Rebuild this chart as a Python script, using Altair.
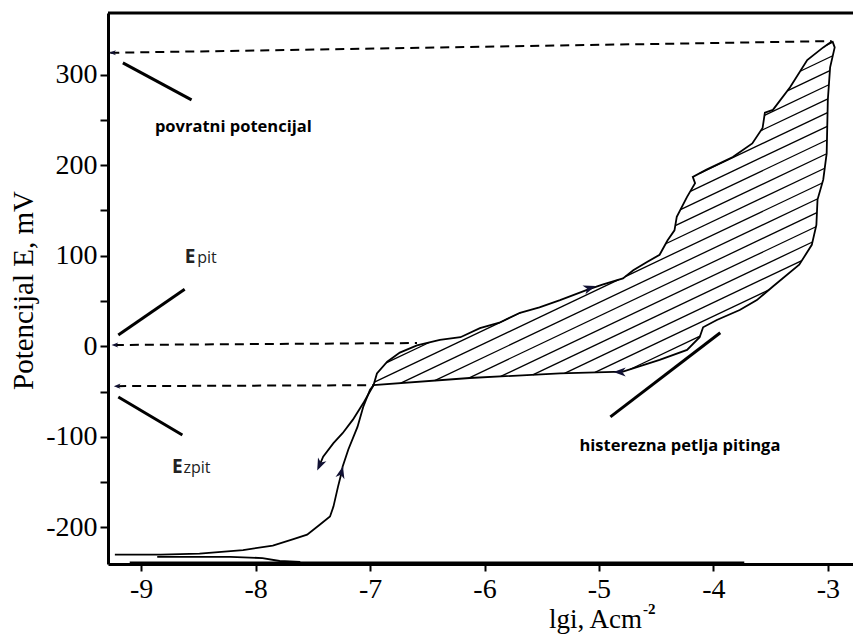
import altair as alt
import pandas as pd
import numpy as np

# ---------------- data ----------------
# forward (anodic) scan
fwd_lgi = [-9.23, -8.83, -8.49, -8.11, -7.85, -7.67, -7.55, -7.44, -7.35, -7.32, -7.28, -7.25, -7.24,
           -7.19, -7.11, -7.06, -7.00, -6.97, -6.94, -6.85, -6.74, -6.59, -6.39, -6.21, -6.04, -5.87,
           -5.69, -5.52, -5.34, -5.11, -4.97, -4.79, -4.70, -4.58, -4.47, -4.40, -4.34, -4.32, -4.23,
           -4.16, -4.18, -4.06, -3.83, -3.66, -3.57, -3.55, -3.48, -3.33, -3.18, -3.04, -2.96]
fwd_E = [-230, -230, -229, -225, -220, -213, -208, -197, -188, -177, -155, -140, -133,
         -114, -89, -67, -48, -43, -30, -17, -7, 1, 7, 10, 20, 26,
         37, 43, 51, 62, 68, 75, 84, 93, 101, 117, 128, 143, 165,
         180, 187, 195, 209, 224, 241, 258, 261, 286, 316, 330, 337]
# reverse scan
rev_lgi = [-2.96, -2.94, -2.98, -3.00, -3.01, -3.04, -3.09, -3.10, -3.14, -3.25, -3.48, -3.62, -3.77,
           -3.97, -4.09, -4.12, -4.23, -4.47, -4.62, -4.79, -5.34, -6.13, -6.97, -7.06, -7.15, -7.24,
           -7.32, -7.41, -7.45]
rev_E = [337, 330, 308, 272, 213, 184, 162, 134, 112, 90, 66, 51, 40,
         29, 21, 10, -4, -15, -21, -28, -30, -35, -43, -63, -81, -96,
         -107, -122, -134]
# traces along the bottom
low1_lgi = [-8.86, -8.22, -7.94, -7.79, -7.61]
low1_E = [-232.6, -232.6, -233.8, -237.1, -238.2]
low2_lgi = [-9.10, -3.73]
low2_E = [-238.6, -238.6]

# dashed guide lines (povratni potencijal, Epit, Ezpit)
guide_lgi0 = [-9.27, -9.23, -9.21]
guide_E0 = [324, 1.4, -44]
guide_lgi1 = [-2.97, -6.59, -6.97]
guide_E1 = [337, 3.6, -43]

# leader lines of the labels
lead_lgi0 = [-9.16, -9.20, -9.20, -4.90]
lead_E0 = [313, 12.5, -56, -78]
lead_lgi1 = [-8.56, -8.62, -8.64, -3.94]
lead_E1 = [272, 63, -98, 15]

# arrow heads
arr_lgi = [-7.25, -5.08, -4.82, -7.44, -9.25, -9.23, -9.21]
arr_E = [-139, 64.4, -28.4, -131, 324, 1.4, -44]
arr_angle = [14, 71, 270, 204, 270, 270, 270]
arr_size = [150, 150, 150, 150, 45, 45, 45]

# hatch of the hysteresis loop (slope in mV/decade, spacing in mV)
hatch_slope = 60.0
hatch_step = 15.0
hatch_ref = 363.2

E_ticks = [-200, -150, -100, -50, 0, 50, 100, 150, 200, 250, 300]
lgi_ticks = [-9, -8, -7, -6, -5, -4, -3]

# ---------------- build tables ----------------
rows = []
def add(seg, us, vs):
    for i, (u, v) in enumerate(zip(us, vs)):
        rows.append({"lgi": u, "E": v, "seg": seg, "ord": i})

add("fwd", fwd_lgi, fwd_E)
add("rev", rev_lgi, rev_E)
add("low1", low1_lgi, low1_E)
add("low2", low2_lgi, low2_E)
curves = pd.DataFrame(rows)

# hatch lines clipped to the loop
i0 = fwd_lgi.index(-6.97)
pu = np.array(fwd_lgi[i0:] + rev_lgi[1:22])
pv = np.array(fwd_E[i0:] + rev_E[1:22])
n = len(pu)
hrows = []
for j in range(-12, 16):
    c = hatch_ref + hatch_step * j
    g = pv - hatch_slope * pu - c
    xs_ = []
    for a in range(n):
        b = (a + 1) % n
        if g[a] * g[b] < 0:
            t = g[a] / (g[a] - g[b])
            xs_.append(pu[a] + t * (pu[b] - pu[a]))
    xs_.sort()
    for p in range(0, len(xs_) - 1, 2):
        for q, u in enumerate((xs_[p], xs_[p + 1])):
            hrows.append({"lgi": u, "E": c + hatch_slope * u, "seg": f"h{j}_{p}", "ord": q})
hatch = pd.DataFrame(hrows)

grows = []
for i in range(3):
    grows.append({"lgi": guide_lgi0[i], "E": guide_E0[i], "seg": i, "ord": 0})
    grows.append({"lgi": guide_lgi1[i], "E": guide_E1[i], "seg": i, "ord": 1})
guides = pd.DataFrame(grows)

lrows = []
for i in range(4):
    lrows.append({"lgi": lead_lgi0[i], "E": lead_E0[i], "seg": i, "ord": 0})
    lrows.append({"lgi": lead_lgi1[i], "E": lead_E1[i], "seg": i, "ord": 1})
leads = pd.DataFrame(lrows)

arrows = pd.DataFrame({"lgi": arr_lgi, "E": arr_E, "angle": arr_angle, "size": arr_size})

bold_txt = pd.DataFrame({"lgi": [-8.88, -5.17], "E": [236.6, -116],
                         "t": ["povratni potencijal", "histerezna petlja pitinga"]})
e_txt = pd.DataFrame({"lgi": [-8.62, -8.73], "E": [92, -140], "t": ["E", "E"]})
sub_txt = pd.DataFrame({"lgi": [-8.51, -8.63], "E": [92, -140], "t": ["pit", "zpit"]})

# ---------------- chart ----------------
W, H = 745, 551
SERIF = "Liberation Serif"
xs = alt.Scale(domain=[-9.29, -2.78], nice=False, zero=False)
ys = alt.Scale(domain=[-240.4, 368], nice=False, zero=False)
xaxis = alt.Axis(values=lgi_ticks, labelExpr="'' + datum.value", title=None, grid=False,
                 tickSize=7, tickWidth=2, domainWidth=3, labelPadding=4,
                 labelFont=SERIF, labelFontSize=28, labelColor="black",
                 domainColor="black", tickColor="black")
yaxis = alt.Axis(values=E_ticks, labelExpr="datum.value % 100 == 0 ? '' + datum.value : ''",
                 grid=False, tickSize=8, tickWidth=2, domainWidth=3, labelPadding=3,
                 labelFont=SERIF, labelFontSize=28, labelColor="black",
                 domainColor="black", tickColor="black",
                 title="Potencijal E, mV", titleFont=SERIF, titleFontSize=29,
                 titleFontWeight="normal", titleColor="black", titleX=-85, titleY=277,
                 titleAngle=270, titleAlign="center", titleBaseline="middle")
X = alt.X("lgi:Q", scale=xs, axis=xaxis)
Y = alt.Y("E:Q", scale=ys, axis=yaxis)

frame_top = alt.Chart(pd.DataFrame({"a": [0]})).mark_rule(color="black", strokeWidth=3).encode(
    x=alt.value(0), x2=alt.value(W), y=alt.value(0))

hatch_layer = alt.Chart(hatch).mark_line(color="black", strokeWidth=1.3).encode(
    x=X, y=Y, detail="seg:N", order="ord:Q")
curve_layer = alt.Chart(curves).mark_line(color="black", strokeWidth=1.8).encode(
    x=X, y=Y, detail="seg:N", order="ord:Q")
guide_layer = alt.Chart(guides).mark_line(color="black", strokeWidth=2, strokeDash=[9, 6]).encode(
    x=X, y=Y, detail="seg:N", order="ord:Q")
lead_layer = alt.Chart(leads).mark_line(color="black", strokeWidth=3).encode(
    x=X, y=Y, detail="seg:N", order="ord:Q")
arrow_layer = alt.Chart(arrows).mark_point(
    shape="M0,-1L0.75,1L0,0.45L-0.75,1Z", filled=True, color="#111133", opacity=1).encode(
    x=X, y=Y, angle=alt.Angle("angle:Q", scale=None),
    size=alt.Size("size:Q", scale=None))

bold_layer = alt.Chart(bold_txt).mark_text(font="Open Sans", fontWeight="bold", fontSize=16.5,
                                           align="left", baseline="alphabetic", color="black").encode(
    x=X, y=Y, text="t:N")
e_layer = alt.Chart(e_txt).mark_text(font="Open Sans", fontWeight="bold", fontSize=19,
                                     align="left", baseline="alphabetic", color="#222").encode(
    x=X, y=Y, text="t:N")
sub_layer = alt.Chart(sub_txt).mark_text(font="Open Sans", fontSize=16,
                                         align="left", baseline="alphabetic", color="#222").encode(
    x=X, y=Y, text="t:N")

xt1 = alt.Chart(pd.DataFrame({"t": ["lgi, Acm"]})).mark_text(
    font=SERIF, fontSize=27, align="right", baseline="alphabetic", color="black").encode(
    x=alt.value(534), y=alt.value(615), text="t:N")
xt2 = alt.Chart(pd.DataFrame({"t": ["-2"]})).mark_text(
    font=SERIF, fontSize=15, fontWeight="bold", align="left", baseline="alphabetic",
    color="black").encode(x=alt.value(535), y=alt.value(601), text="t:N")

chart = alt.layer(frame_top, hatch_layer, curve_layer, guide_layer, lead_layer, arrow_layer,
                  bold_layer, e_layer, sub_layer, xt1, xt2).properties(
    width=W, height=H, autosize=alt.AutoSizeParams(type="none"),
    padding={"left": 100, "top": 5, "right": 0, "bottom": 72}
).configure_view(stroke=None).configure_axis(
    labelFont=SERIF, labelFontSize=28, titleFont=SERIF
).configure(background="white")

chart.save("out.html", embed_options={"renderer": "svg", "actions": False})
